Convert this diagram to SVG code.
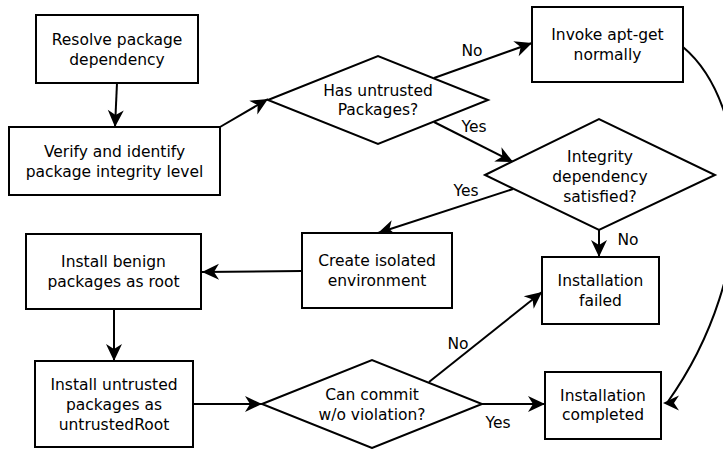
<svg xmlns="http://www.w3.org/2000/svg" width="723" height="449" viewBox="0 0 723 449">
<style>
.n rect, .n polygon { fill: #fff; stroke: #000; stroke-width: 2; }
text { font-family: "DejaVu Sans", sans-serif; font-size: 15.5px; fill: #000; text-anchor: middle; }
.c path { fill: none; stroke: #000; stroke-width: 2; }
.c .a { marker-end: url(#arr); }
</style>
<defs>
<marker id="arr" markerUnits="userSpaceOnUse" orient="auto" markerWidth="20" markerHeight="20" refX="0" refY="0" overflow="visible">
<path d="M0,0 L-17,-8 L-12,0 L-17,8 z" fill="#000"/>
</marker>
<marker id="arrL" markerUnits="userSpaceOnUse" orient="180" markerWidth="20" markerHeight="20" refX="0" refY="0" overflow="visible">
<path d="M4,0 L-12,-7.5 L-7,0 L-12,7.5 z" fill="#000"/>
</marker>
</defs>
<g class="c" id="connectors">
<path class="a" d="M117,83 L115,127"/>
<path class="a" d="M220,127 L268,99"/>
<path class="a" d="M434,78 L532,43"/>
<path class="a" d="M434,122 L513,162"/>
<path class="a" d="M513,189 L378,233"/>
<path class="a" d="M599,230 L599,257"/>
<path class="a" d="M302,271 L202,272"/>
<path class="a" d="M114,309 L114,361"/>
<path class="a" d="M193,404 L262,404"/>
<path class="a" d="M429,382 L542,292"/>
<path class="a" d="M482,404 L545,404"/>
<path d="M683,47 C752,105 762,270 667,403" marker-end="url(#arrL)"/>
<text x="472" y="55.5">No</text>
<text x="474" y="131.5">Yes</text>
<text x="466" y="195.5">Yes</text>
<text x="628" y="244.5">No</text>
<text x="458" y="348.5">No</text>
<text x="498" y="427.5">Yes</text>
</g>
<g class="n" id="resolve">
<rect x="36" y="15" width="162" height="68"/>
<text x="117" y="44.5">Resolve package</text>
<text x="117" y="64.5">dependency</text>
</g>
<g class="n" id="verify">
<rect x="9" y="127" width="211" height="68"/>
<text x="114.5" y="156.5">Verify and identify</text>
<text x="114.5" y="176.5">package integrity level</text>
</g>
<g class="n" id="has-untrusted">
<polygon points="268,100 378,56 488,100 378,144"/>
<text x="378" y="95.5">Has untrusted</text>
<text x="378" y="115">Packages?</text>
</g>
<g class="n" id="invoke">
<rect x="532" y="7" width="151" height="75"/>
<text x="607.5" y="40">Invoke apt-get</text>
<text x="607.5" y="60">normally</text>
</g>
<g class="n" id="integrity">
<polygon points="485,175 599,119 715,175 599,230"/>
<text x="600" y="161.5">Integrity</text>
<text x="600" y="181.5">dependency</text>
<text x="600" y="201.5">satisfied?</text>
</g>
<g class="n" id="isolated">
<rect x="302" y="233" width="150" height="75"/>
<text x="377" y="265.5">Create isolated</text>
<text x="377" y="285.5">environment</text>
</g>
<g class="n" id="failed">
<rect x="542" y="257" width="117" height="67"/>
<text x="600.5" y="286">Installation</text>
<text x="600.5" y="306">failed</text>
</g>
<g class="n" id="benign">
<rect x="26" y="234" width="175" height="75"/>
<text x="113.5" y="267">Install benign</text>
<text x="113.5" y="287">packages as root</text>
</g>
<g class="n" id="untrusted">
<rect x="35" y="361" width="158" height="86"/>
<text x="114" y="389.5">Install untrusted</text>
<text x="114" y="409.5">packages as</text>
<text x="114" y="429.5">untrustedRoot</text>
</g>
<g class="n" id="commit">
<polygon points="262,404 372,360 482,404 372,448"/>
<text x="372" y="399.5">Can commit</text>
<text x="372" y="419.5">w/o violation?</text>
</g>
<g class="n" id="completed">
<rect x="545" y="372" width="116" height="67"/>
<text x="603" y="400.5">Installation</text>
<text x="603" y="420">completed</text>
</g>
</svg>
